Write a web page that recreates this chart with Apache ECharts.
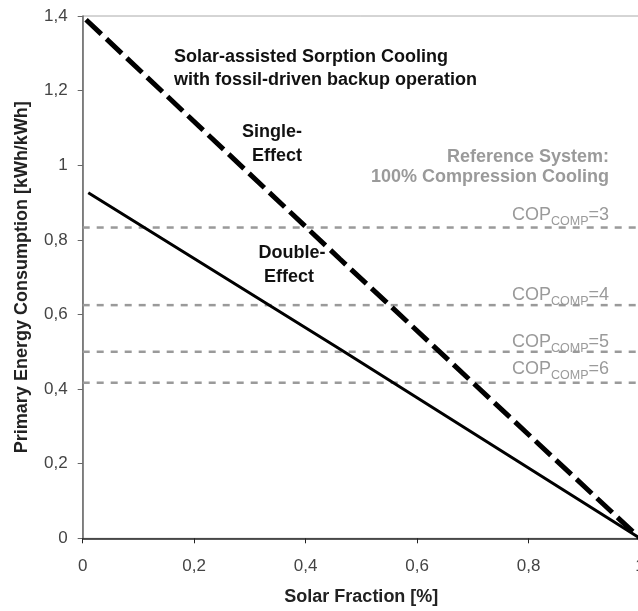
<!DOCTYPE html>
<html>
<head>
<meta charset="utf-8">
<script src="https://cdn.jsdelivr.net/npm/echarts@6/dist/echarts.min.js"></script>
<style>
html,body{margin:0;padding:0;background:#fff;}
#c{width:638px;height:611px;}
</style>
</head>
<body>
<div id="c"></div>
<script>
// Data
var singleEffect = [[0.006, 1.39], [0.462, 0.748], [0.552, 0.623], [1, 0]];
var doubleEffect = [[0.01, 0.926], [0.462, 0.507], [1, 0]];
var copValues = [3, 4, 5, 6];
var copPE = [0.833, 0.625, 0.5, 0.417];
var xTicks = [0, 0.2, 0.4, 0.6, 0.8, 1];
var yTicks = [0, 0.2, 0.4, 0.6, 0.8, 1, 1.2, 1.4];

var FONT = "'Liberation Sans', Arial, sans-serif";
function fmt(v) { return String(Math.round(v * 10) / 10).replace('.', ','); }

var chart = echarts.init(document.getElementById('c'));

var copSeries = copPE.map(function (v, i) {
  return {
    type: 'line',
    name: 'COP' + copValues[i],
    data: [[0, v], [1, v]],
    symbol: 'none',
    silent: true,
    lineStyle: { color: '#9a9a9a', width: 2.5, type: [7, 7] },
    z: 1
  };
});

var copLabelY = [213, 293, 340, 367];
var copTexts = copValues.map(function (c, i) {
  return {
    type: 'text',
    x: 609,
    y: copLabelY[i],
    style: {
      text: '{a|COP}{b|COMP}{a|=' + c + '}',
      fontFamily: FONT,
      align: 'right',
      verticalAlign: 'middle',
      rich: {
        a: { fontSize: 18, fill: '#9a9a9a', fontFamily: FONT, verticalAlign: 'bottom', lineHeight: 22 },
        b: { fontSize: 12.5, fill: '#9a9a9a', fontFamily: FONT, verticalAlign: 'bottom', lineHeight: 15, padding: [0, 0, -4, 0] }
      }
    }
  };
});

var boldStyle = { fontFamily: FONT, fontSize: 18, fontWeight: 'bold', fill: '#111' };
function txt(x, y, text, extra) {
  var s = Object.assign({}, boldStyle, { text: text, verticalAlign: 'middle' }, extra || {});
  return { type: 'text', x: x, y: y, style: s };
}

var option = {
  backgroundColor: '#fff',
  animation: false,
  grid: { left: 82.7, width: 557.3, top: 16, height: 522.3, show: true, borderColor: '#aaaaaa', borderWidth: 1, containLabel: false, outerBoundsMode: 'none' },
  xAxis: {
    type: 'value', min: 0, max: 1, interval: 0.2,
    name: 'Solar Fraction [%]', nameLocation: 'middle', nameGap: 50,
    nameTextStyle: { fontFamily: FONT, fontSize: 18, fontWeight: 'bold', color: '#222' },
    axisLine: { lineStyle: { color: '#222', width: 1.5 } },
    axisTick: { show: true, length: 5, lineStyle: { color: '#222' } },
    axisLabel: { formatter: fmt, fontFamily: FONT, fontSize: 17, color: '#444', margin: 20 },
    splitLine: { show: false }
  },
  yAxis: {
    type: 'value', min: 0, max: 1.4, interval: 0.2,
    name: 'Primary Energy Consumption [kWh/kWh]', nameLocation: 'middle', nameGap: 52, nameRotate: 90,
    nameTextStyle: { fontFamily: FONT, fontSize: 18, fontWeight: 'bold', color: '#222' },
    axisLine: { lineStyle: { color: '#666', width: 1.5 } },
    axisTick: { show: true, length: 5, lineStyle: { color: '#666' } },
    axisLabel: { formatter: fmt, fontFamily: FONT, fontSize: 17, color: '#444', margin: 15 },
    splitLine: { show: false }
  },
  series: copSeries.concat([
    {
      type: 'line', name: 'Single-Effect', data: singleEffect, symbol: 'none',
      lineStyle: { color: '#000', width: 5, type: [21, 7] }, z: 3
    },
    {
      type: 'line', name: 'Double-Effect', data: doubleEffect, symbol: 'none',
      lineStyle: { color: '#000', width: 3 }, z: 3
    }
  ]),
  graphic: [
    txt(174, 57, 'Solar-assisted Sorption Cooling'),
    txt(174, 80, 'with fossil-driven backup operation'),
    txt(302, 132, 'Single-', { align: 'right' }),
    txt(302, 156, 'Effect', { align: 'right' }),
    txt(292, 253, 'Double-', { align: 'center' }),
    txt(289, 277, 'Effect', { align: 'center' }),
    txt(609, 157, 'Reference System:', { align: 'right', fill: '#9a9a9a' }),
    txt(609, 177, '100% Compression Cooling', { align: 'right', fill: '#9a9a9a' })
  ].concat(copTexts)
};
chart.setOption(option);
</script>
</body>
</html>
